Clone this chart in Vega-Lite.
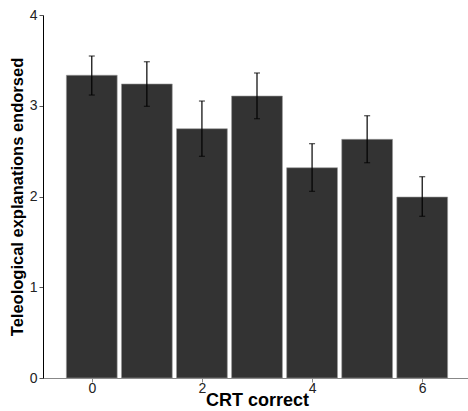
{
  "$schema": "https://vega.github.io/schema/vega-lite/v6.json",
  "autosize": "none",
  "width": 428,
  "height": 363,
  "padding": {"left": 43, "top": 15, "right": 0, "bottom": 33},
  "background": "white",
  "config": {
    "view": {"stroke": null},
    "font": "Liberation Sans"
  },
  "data": {
    "values": [
      {"crt": 0, "mean": 3.336, "lo": 3.118, "hi": 3.548},
      {"crt": 1, "mean": 3.240, "lo": 2.994, "hi": 3.485},
      {"crt": 2, "mean": 2.747, "lo": 2.443, "hi": 3.052},
      {"crt": 3, "mean": 3.107, "lo": 2.857, "hi": 3.361},
      {"crt": 4, "mean": 2.317, "lo": 2.057, "hi": 2.582},
      {"crt": 5, "mean": 2.630, "lo": 2.372, "hi": 2.890},
      {"crt": 6, "mean": 1.994, "lo": 1.782, "hi": 2.218}
    ]
  },
  "encoding": {
    "x": {
      "field": "crt", "type": "quantitative",
      "scale": {"domain": [-0.795, 6.795], "nice": false, "zero": false},
      "axis": {
        "title": "CRT correct", "values": [0, 2, 4, 6], "format": "d", "grid": false,
        "domainColor": "#888888", "tickColor": "#888888", "tickSize": 4,
        "labelFontSize": 14, "labelColor": "#222222", "labelPadding": -1,
        "titleFontSize": 18, "titleFontWeight": "bold", "titleColor": "#000000", "titlePadding": -4
      }
    }
  },
  "layer": [
    {
      "mark": {"type": "bar", "fill": "#333333", "stroke": "#999999", "strokeWidth": 0.6, "width": 50.8},
      "encoding": {
        "y": {"field": "mean", "type": "quantitative",
          "scale": {"domain": [0, 4], "nice": false},
          "axis": {
            "title": "Teleological explanations endorsed", "values": [0, 1, 2, 3, 4], "format": "d", "grid": false,
            "domainColor": "#000000", "tickColor": "#555555", "tickSize": 4,
            "labelFontSize": 14, "labelColor": "#222222", "labelPadding": 2,
            "titleFontSize": 16.5, "titleFontWeight": "bold", "titleColor": "#000000", "titlePadding": 4
          }
        }
      }
    },
    {
      "mark": {"type": "rule", "color": "#000000", "strokeWidth": 1.2},
      "encoding": {
        "y": {"field": "lo", "type": "quantitative"},
        "y2": {"field": "hi"}
      }
    },
    {
      "mark": {"type": "tick", "color": "#000000", "orient": "horizontal", "size": 6, "thickness": 1.2},
      "encoding": {"y": {"field": "lo", "type": "quantitative"}}
    },
    {
      "mark": {"type": "tick", "color": "#000000", "orient": "horizontal", "size": 6, "thickness": 1.2},
      "encoding": {"y": {"field": "hi", "type": "quantitative"}}
    }
  ]
}
